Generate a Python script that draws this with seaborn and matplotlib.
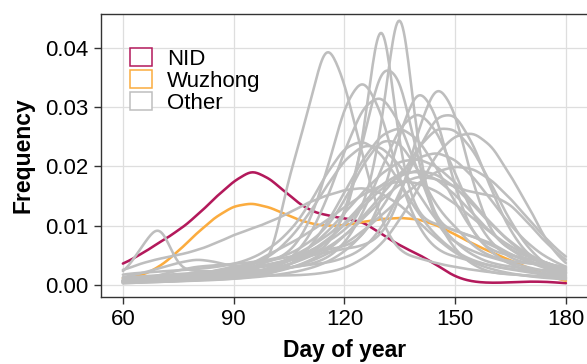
import numpy as np
import matplotlib
matplotlib.use("Agg")
import matplotlib.pyplot as plt
from matplotlib.patches import Patch
import seaborn as sns



# Day-of-year grid (5 day bins) and the relative counts per bin for each site
days = [50, 55, 60, 65, 70, 75, 80, 85, 90, 95, 100, 105, 110, 115, 120,
        125, 130, 135, 140, 145, 150, 155, 160, 165, 170, 175, 180, 185, 190]

nid = [1.5, 2.4, 3.5, 5.2, 7.2, 9.1, 11.6, 14.7, 17.4, 19.6, 17.8, 15.1, 12.6, 11.7, 11.2,
       10.7, 8.6, 6.6, 5.2, 3.4, 1.3, 0.5, 0.35, 0.45, 0.6, 0.55, 0.3, 0.15, 0.05]
wuzhong = [0.4, 0.7, 1.2, 1.5, 3.0, 5.6, 8.6, 11.3, 13.2, 13.7, 12.9, 11.5, 10.3, 9.8, 9.9,
           10.5, 11.0, 11.2, 11.0, 10.0, 8.4, 6.8, 5.4, 4.1, 2.8, 1.6, 0.6, 0.25, 0.1]

site_a = [0.3, 0.5, 0.8, 1.0, 1.2, 1.3, 1.4, 1.6, 1.9, 2.4, 3.2, 18.5, 28.0, 42.5, 34.0,
          21.3, 10.2, 5.3, 4.5, 3.6, 3.0, 2.5, 2.1, 1.8, 1.5, 1.3, 1.1, 0.6, 0.3]
site_b = [0.3, 0.5, 0.8, 1.0, 1.1, 1.2, 1.3, 1.4, 1.6, 2.0, 2.8, 4.5, 6.0, 8.0, 10.0,
          22.0, 52.0, 20.0, 11.0, 10.0, 9.0, 8.0, 6.5, 5.0, 3.8, 2.6, 1.8, 1.0, 0.5]
site_c = [0.2, 0.3, 0.5, 0.6, 0.7, 0.8, 0.9, 1.0, 1.2, 1.5, 3.0, 4.0, 5.5, 7.0, 9.0,
          12.0, 24.0, 55.0, 20.0, 10.0, 9.0, 8.0, 7.0, 5.0, 4.0, 3.0, 2.2, 1.2, 0.6]
site_d = [0.3, 0.5, 0.8, 1.0, 1.2, 1.3, 1.5, 1.7, 2.0, 3.0, 3.8, 5.0, 9.0, 17.5, 29.0,
          34.0, 28.0, 16.5, 9.0, 5.5, 4.5, 3.8, 3.0, 2.5, 2.0, 1.6, 1.2, 0.6, 0.3]
site_e = [0.3, 0.5, 0.7, 0.9, 1.0, 1.1, 1.2, 1.8, 2.3, 2.8, 3.4, 4.2, 5.0, 5.9, 11.1,
          23.8, 37.4, 35.4, 20.4, 9.2, 7.1, 5.5, 4.5, 3.7, 2.9, 2.2, 1.6, 0.8, 0.4]
site_f = [0.3, 0.5, 0.7, 0.9, 1.1, 1.3, 1.5, 2.4, 3.0, 3.5, 4.0, 4.6, 5.2, 5.8, 6.2,
          7.7, 13.1, 25.0, 33.1, 28.2, 15.4, 7.8, 5.5, 4.8, 4.3, 3.7, 2.1, 1.3, 0.6]
site_g = [0.3, 0.4, 0.6, 0.8, 1.0, 1.2, 1.4, 1.7, 2.0, 2.8, 3.4, 4.0, 4.6, 5.2, 5.8,
          6.2, 7.7, 13.1, 25.0, 33.1, 28.2, 15.4, 7.8, 5.5, 4.5, 3.5, 2.4, 1.3, 0.6]
site_h = [0.2, 0.4, 0.6, 0.8, 1.0, 1.2, 1.4, 1.6, 1.8, 2.0, 2.6, 4.1, 7.4, 13.8, 22.5,
          30.2, 32.4, 27.5, 18.9, 10.8, 5.7, 3.2, 2.0, 1.8, 1.6, 1.4, 1.2, 0.8, 0.4]
site_i = [0.2, 0.3, 0.5, 0.6, 0.8, 1.0, 1.2, 1.5, 1.8, 2.1, 2.5, 2.9, 3.3, 3.6, 4.4,
          5.8, 9.1, 15.0, 22.4, 28.1, 28.5, 23.2, 15.3, 8.6, 4.7, 3.1, 2.5, 1.5, 0.8]
site_j = [0.3, 0.4, 0.6, 0.8, 1.0, 1.2, 1.4, 1.6, 1.9, 2.2, 2.5, 2.8, 3.3, 4.2, 6.6,
          11.6, 19.1, 26.2, 29.0, 25.6, 18.4, 11.2, 6.6, 4.3, 3.5, 3.2, 3.0, 1.8, 0.9]
site_k = [0.2, 0.3, 0.5, 0.6, 0.8, 1.0, 1.2, 1.4, 1.7, 2.0, 2.5, 3.2, 4.2, 5.6, 7.6,
          10.2, 13.2, 15.8, 17.0, 16.5, 15.2, 14.3, 14.0, 12.6, 9.5, 6.3, 3.8, 2.0, 0.9]
site_l = [0.5, 1.0, 1.8, 6.5, 12.0, 2.5, 2.5, 2.4, 2.4, 2.5, 2.8, 3.5, 5.0, 7.5, 10.8,
          14.5, 17.8, 19.8, 20.2, 18.8, 16.0, 12.5, 9.0, 6.2, 4.2, 3.0, 2.2, 1.2, 0.5]
site_m = [1.5, 2.0, 2.5, 3.8, 4.6, 5.2, 6.0, 7.2, 8.7, 9.8, 11.0, 12.5, 14.3, 15.5, 16.5,
          17.0, 16.0, 14.0, 11.0, 8.0, 5.5, 3.8, 2.7, 2.0, 1.5, 1.2, 1.0, 0.7, 0.4]
site_n = [0.5, 0.8, 1.3, 2.0, 2.9, 3.8, 4.5, 4.0, 3.1, 2.9, 3.2, 4.0, 5.4, 7.5, 10.2,
          13.4, 16.5, 18.8, 19.8, 19.0, 16.8, 13.6, 10.2, 7.2, 4.8, 3.1, 2.0, 1.1, 0.5]
site_o = [0.3, 0.5, 0.7, 0.9, 1.0, 1.1, 1.2, 1.2, 1.3, 1.3, 1.4, 1.4, 1.5, 1.8, 2.4,
          3.8, 5.8, 9.5, 14.0, 19.5, 22.0, 22.5, 20.5, 16.0, 11.5, 6.0, 3.0, 1.3, 0.5]
site_p = [0.4, 0.7, 1.0, 1.3, 1.5, 1.7, 1.9, 2.0, 2.5, 3.2, 4.7, 7.3, 11.2, 16.0, 20.5,
          23.0, 22.8, 19.7, 15.0, 10.4, 6.9, 4.7, 3.5, 3.0, 2.6, 2.4, 2.1, 1.3, 0.6]
site_q = [0.2, 0.3, 0.4, 0.5, 0.6, 0.7, 0.8, 0.9, 1.0, 1.3, 1.8, 3.0, 5.5, 9.5, 14.8,
          20.2, 24.2, 25.5, 23.5, 18.8, 13.2, 8.3, 5.0, 3.2, 2.3, 1.8, 1.4, 0.8, 0.4]
site_r = [0.2, 0.3, 0.4, 0.5, 0.6, 0.7, 0.8, 1.0, 1.2, 1.5, 2.0, 2.7, 3.8, 5.5, 8.0,
          11.2, 14.8, 18.5, 21.2, 22.0, 20.8, 17.8, 13.8, 9.8, 6.6, 4.4, 3.0, 1.7, 0.8]
site_s = [0.6, 0.9, 1.2, 1.5, 1.7, 1.9, 2.1, 2.4, 2.9, 3.6, 5.5, 7.0, 8.9, 11.0, 13.4,
          15.6, 17.2, 18.0, 17.6, 16.2, 14.0, 11.4, 8.8, 6.6, 4.9, 3.7, 2.9, 1.8, 0.9]
site_t = [0.1, 0.2, 0.3, 0.4, 0.5, 0.6, 0.8, 1.0, 1.3, 1.8, 2.6, 3.8, 5.6, 8.2, 11.4,
          14.8, 17.8, 19.8, 20.2, 19.0, 16.4, 13.0, 9.6, 6.8, 4.8, 3.4, 2.5, 1.5, 0.7]
site_u = [0.1, 0.2, 0.3, 0.4, 0.5, 0.6, 0.7, 0.8, 1.0, 1.2, 1.5, 1.9, 2.5, 3.5, 5.2,
          8.0, 12.0, 17.0, 22.0, 25.2, 25.0, 21.5, 15.8, 10.0, 5.6, 3.0, 1.8, 1.0, 0.5]
site_v = [0.5, 0.9, 1.8, 2.0, 2.2, 2.4, 2.6, 2.9, 3.4, 4.3, 6.0, 8.5, 12.5, 18.0, 22.5,
          23.8, 21.5, 16.8, 11.5, 7.8, 5.4, 3.9, 3.1, 2.6, 2.3, 1.8, 1.2, 0.6, 0.3]
site_w = [0.2, 0.3, 0.4, 0.5, 0.6, 0.7, 0.9, 1.1, 1.3, 1.6, 2.0, 2.6, 3.4, 4.6, 6.2,
          8.2, 10.6, 13.2, 15.6, 17.4, 18.2, 17.8, 16.0, 13.2, 10.0, 6.8, 4.2, 2.4, 1.1]
site_x = [0.3, 0.5, 0.7, 0.9, 1.6, 2.4, 3.0, 3.2, 3.4, 3.7, 4.1, 4.9, 6.7, 9.0, 13.5,
          19.6, 23.8, 23.4, 18.7, 12.4, 9.5, 6.1, 4.5, 3.8, 3.5, 3.3, 3.1, 1.8, 0.8]

other_sites = [site_a, site_b, site_c, site_d, site_e, site_f, site_g, site_h,
               site_i, site_j, site_k, site_l, site_m, site_n, site_o, site_p,
               site_q, site_r, site_s, site_t, site_u, site_v, site_w, site_x]

legend_labels = ["NID", "Wuzhong", "Other"]
x_ticks = [60, 90, 120, 150, 180]
y_ticks = [0.00, 0.01, 0.02, 0.03, 0.04]

NID_COLOR = "#B3195B"
WUZHONG_COLOR = "#FBAC3F"
OTHER_COLOR = "#BEBEBE"
BW = 3.0  # kernel bandwidth in days



sns.set_style("white")
plt.rcParams["font.family"] = ["Liberation Sans", "DejaVu Sans"]
plt.rcParams["text.color"] = "black"
plt.rcParams["axes.labelcolor"] = "black"

fig = plt.figure(figsize=(5.87, 3.64), dpi=100)
ax = fig.add_axes([0.1716, 0.184, 0.8302, 0.7775])


def draw_density(values, color):
    spread = np.sqrt(np.cov(days, aweights=values))
    sns.kdeplot(
        x=days,
        weights=values,
        bw_method=BW / spread,
        clip=(60, 180),
        gridsize=400,
        color=color,
        linewidth=1.85,
        ax=ax
    )


# Highlighted sites first, the other sites drawn over them
draw_density(nid, NID_COLOR)
draw_density(wuzhong, WUZHONG_COLOR)

for site in other_sites:
    draw_density(site, OTHER_COLOR)



# Axes styling (ggplot theme_bw look)
ax.set_xlim(54, 186)
ax.set_ylim(-0.00202, 0.0457)
ax.set_xticks(x_ticks)
ax.set_yticks(y_ticks)
ax.set_yticklabels([f"{v:.2f}" for v in y_ticks])

ax.grid(True, color="#DEDEDE", linewidth=0.9)
ax.set_axisbelow(True)

for spine in ax.spines.values():
    spine.set_color("#333333")
    spine.set_linewidth(1.0)

ax.tick_params(
    bottom=True, left=True, direction="out", length=4.8, width=1.0,
    color="#333333", labelsize=16, labelcolor="black", pad=4
)

ax.set_xlabel("Day of year", fontsize=16.5, fontweight="bold", labelpad=6)
ax.set_ylabel("Frequency", fontsize=16.5, fontweight="bold", labelpad=8)



# Legend with outlined square keys
handles = [
    Patch(facecolor="white", edgecolor=c, linewidth=1.1)
    for c in [NID_COLOR, WUZHONG_COLOR, OTHER_COLOR]
]

ax.legend(
    handles,
    legend_labels,
    loc="upper left",
    bbox_to_anchor=(0.06, 0.88),
    frameon=False,
    fontsize=16,
    handlelength=0.98,
    handleheight=0.9,
    handletextpad=0.69,
    labelspacing=0.0,
    borderpad=0,
    borderaxespad=0
)

fig.savefig("out.png", dpi=100)
